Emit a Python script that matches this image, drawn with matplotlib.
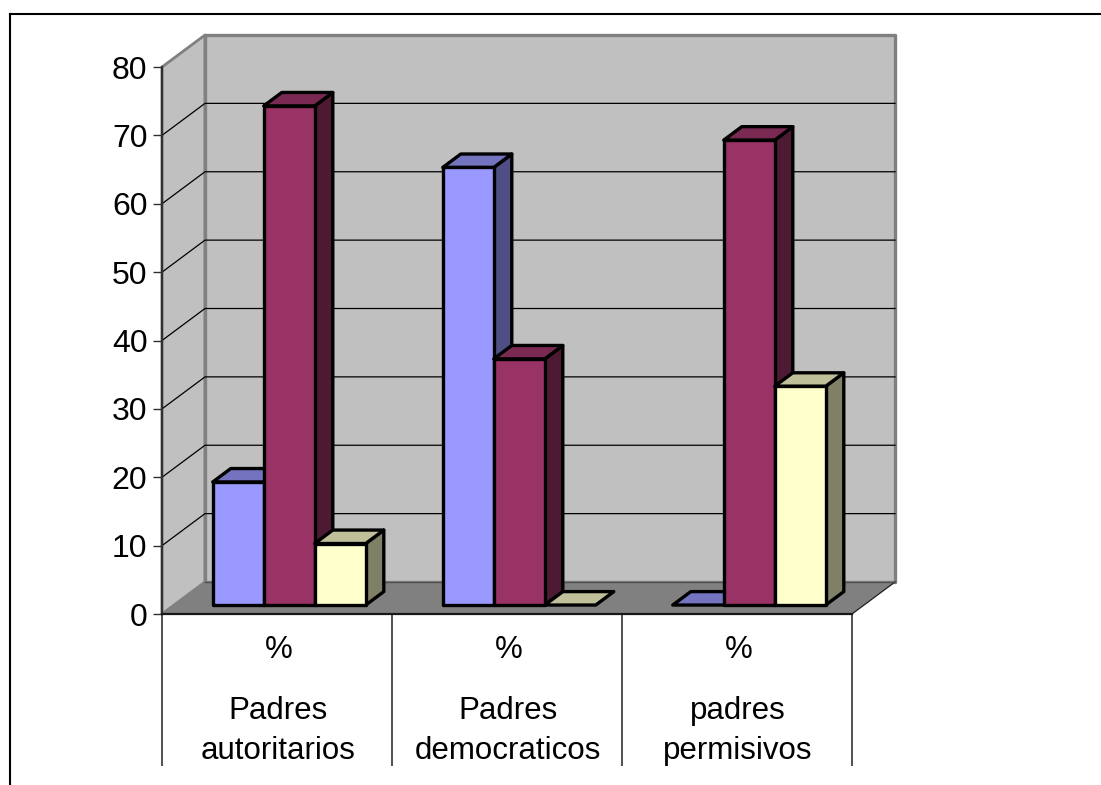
import matplotlib
matplotlib.use("Agg")
import matplotlib.pyplot as plt
from matplotlib.lines import Line2D
from matplotlib.patches import Polygon

# values
categories = ["Padres\nautoritarios", "Padres\ndemocraticos", "padres\npermisivos"]
sublabel = "%"
serie1 = [18, 64, 0]
serie2 = [73, 36, 68]
serie3 = [9, 0, 32]
yticks = [0, 10, 20, 30, 40, 50, 60, 70, 80]

W, H = 1101, 785
# front plane of the chart, pixels
X0, X1, Y0, Y1 = 162, 852, 67, 614
px_x = 3.0 / (X1 - X0)
px_y = 80.0 / (Y1 - Y0)
DX = 43 * px_x  # depth offset in data units
DY = 32 * px_y

bar_colors = [("#9999FF", "#7373BF", "#4F4F85"),
              ("#993366", "#7A2952", "#4D1A33"),
              ("#FFFFCC", "#BFBF99", "#808066")]

plt.rcParams["font.family"] = ["Liberation Sans", "DejaVu Sans"]

fig = plt.figure(figsize=(W / 100, H / 100), dpi=100)
ax = fig.add_axes([X0 / W, 1 - Y1 / H, (X1 - X0) / W, (Y1 - Y0) / H])
ax.set_xlim(0, 3)
ax.set_ylim(0, 80)
ax.patch.set_visible(False)


def proj(x, y, d):
    return (x + d * DX, y + d * DY)


def poly(pts, fc, ec="none", lw=0.0, z=1):
    ax.add_patch(Polygon(pts, closed=True, facecolor=fc, edgecolor=ec, linewidth=lw,
                         joinstyle="round", clip_on=False, zorder=z))


# walls and floor
poly([proj(0, 0, 0), proj(0, 80, 0), proj(0, 80, 1), proj(0, 0, 1)], "#C0C0C0", "#808080", 2.0)
poly([proj(0, 0, 1), proj(0, 80, 1), proj(3, 80, 1), proj(3, 0, 1)], "#C0C0C0", "#808080", 2.4)
poly([proj(0, 0, 0), proj(3, 0, 0), proj(3, 0, 1), proj(0, 0, 1)], "#808080", z=1.5)

# gridlines
for v in yticks[1:-1]:
    a, b, c = proj(0, v, 0), proj(0, v, 1), proj(3, v, 1)
    ax.plot([a[0], b[0], c[0]], [a[1], b[1], c[1]], color="black", lw=0.9,
            clip_on=False, zorder=2, solid_joinstyle="miter")
a, b = proj(3, 0, 0), proj(3, 0, 1)
ax.plot([a[0], b[0]], [a[1], b[1]], color="#202020", lw=0.9, clip_on=False, zorder=2)
a, b = proj(0, 0, 1), proj(3, 0, 1)
ax.plot([a[0], b[0]], [a[1], b[1]], color="#505050", lw=1.0, clip_on=False, zorder=2)

# bars
gap = 38.7 * px_x
bw = 51 * px_x
d0, d1 = 0.28, 0.70
z = 3
for i in range(len(categories)):
    for j, values in enumerate([serie1, serie2, serie3]):
        v = values[i]
        front, top, side = bar_colors[j]
        x0 = i + gap + j * bw
        x1 = x0 + bw
        if v > 0:
            poly([proj(x1, 0, d0), proj(x1, 0, d1), proj(x1, v, d1), proj(x1, v, d0)],
                 side, "black", 2.4, z)
        poly([proj(x0, v, d0), proj(x1, v, d0), proj(x1, v, d1), proj(x0, v, d1)],
             top, "black", 2.4, z + 0.1)
        if v > 0:
            poly([proj(x0, 0, d0), proj(x1, 0, d0), proj(x1, v, d0), proj(x0, v, d0)],
                 front, "black", 2.4, z + 0.2)
        z += 1

# axes
for name in ["top", "right"]:
    ax.spines[name].set_visible(False)
for name in ["left", "bottom"]:
    ax.spines[name].set_linewidth(1.6)
    ax.spines[name].set_zorder(30)
ax.spines["left"].set_color("#303030")
ax.spines["bottom"].set_color("#181818")

ax.set_yticks(yticks)
ax.tick_params(axis="y", length=6.5, width=1.0, color="#303030", pad=4, labelsize=23)
ax.set_xticks(range(len(categories) + 1))
ax.set_xticklabels([])
ax.tick_params(axis="x", length=109.5, width=1.1, color="#202020")

# two level category labels
for i, label in enumerate(categories):
    ax.annotate(sublabel, xy=(i + 0.5, 0), xycoords="data", xytext=(1, -35.5 * 0.72),
                textcoords="offset points", ha="center", va="center", fontsize=22.5)
    ax.annotate(label, xy=(i + 0.5, 0), xycoords="data", xytext=(0.7, -117 * 0.72),
                textcoords="offset points", ha="center", va="center", fontsize=22.5,
                linespacing=1.42)

# outer border, open at right and bottom
fig.add_artist(Line2D([10 / W, 10 / W], [0, 1 - 14 / H], color="black", lw=1.5))
fig.add_artist(Line2D([10 / W, 1], [1 - 14 / H, 1 - 14 / H], color="black", lw=1.5))

fig.savefig("out.png", dpi=100)
